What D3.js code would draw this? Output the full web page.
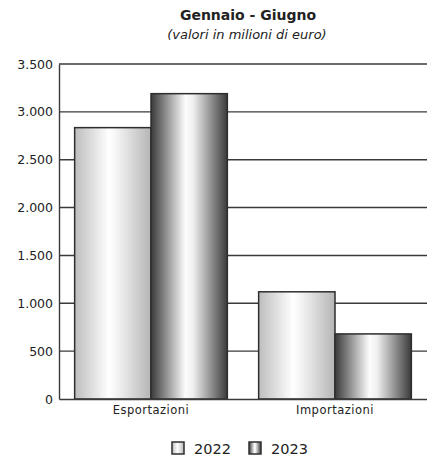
<!DOCTYPE html>
<html>
<head>
<meta charset="utf-8">
<script src="https://cdn.jsdelivr.net/npm/d3@7"></script>
<style>
  html, body { margin: 0; padding: 0; background: #fff; }
  svg { display: block; }
  text { font-family: "DejaVu Sans", Verdana, sans-serif; fill: #222; }
</style>
</head>
<body>
<svg id="chart" width="427" height="460"></svg>
<script>
const title = "Gennaio - Giugno";
const subtitle = "(valori in milioni di euro)";
const categories = ["Esportazioni", "Importazioni"];
const series = ["2022", "2023"];
const values2022 = [2835, 1120];
const values2023 = [3190, 680];
const yTicks = [0, 500, 1000, 1500, 2000, 2500, 3000, 3500];
const yTickLabels = ["0", "500", "1.000", "1.500", "2.000", "2.500", "3.000", "3.500"];

const valuesBySeries = { "2022": values2022, "2023": values2023 };
const data = categories.map((c, i) => ({ category: c, values: series.map(s => ({ series: s, value: valuesBySeries[s][i] })) }));

const svg = d3.select("#chart");
const margin = { left: 59, right: 0, top: 64, bottom: 61 };
const W = 427, H = 460;

const defs = svg.append("defs");
const gradStops = {
  "2022": [["0%", "#bdbdbd"], ["45%", "#ffffff"], ["55%", "#f4f4f4"], ["100%", "#b5b5b5"]],
  "2023": [["0%", "#3a3a3a"], ["45%", "#fcfcfc"], ["55%", "#f0f0f0"], ["100%", "#3a3a3a"]]
};
series.forEach(s => {
  const g = defs.append("linearGradient").attr("id", "grad" + s)
    .attr("x1", "0%").attr("x2", "100%").attr("y1", "0%").attr("y2", "0%");
  gradStops[s].forEach(([o, c]) => g.append("stop").attr("offset", o).attr("stop-color", c));
});

const x0 = d3.scaleBand().domain(categories).range([margin.left, W - margin.right]).paddingInner(0).paddingOuter(0);
const x1 = d3.scaleBand().domain(series).range([0, x0.bandwidth()]).paddingInner(0).paddingOuter(0.205);
const y = d3.scaleLinear().domain([0, 3500]).range([H - margin.bottom, margin.top]);

// gridlines
svg.append("g").selectAll("line").data(yTicks.filter(d => d > 0)).join("line")
  .attr("x1", margin.left).attr("x2", W - margin.right)
  .attr("y1", d => y(d)).attr("y2", d => y(d))
  .attr("stroke", "#3a3a3a").attr("stroke-width", 1.4);

// bars
const groups = svg.append("g").selectAll("g").data(data).join("g")
  .attr("transform", d => `translate(${x0(d.category)},0)`);
groups.selectAll("rect").data(d => d.values).join("rect")
  .attr("x", d => x1(d.series))
  .attr("width", x1.bandwidth())
  .attr("y", d => y(d.value))
  .attr("height", d => y(0) - y(d.value))
  .attr("fill", d => `url(#grad${d.series})`)
  .attr("stroke", "#2e2e2e").attr("stroke-width", 1.5);

// y axis
const yAxis = d3.axisLeft(y).tickValues(yTicks).tickFormat((d, i) => yTickLabels[i]).tickSize(0).tickPadding(6);
const ya = svg.append("g").attr("transform", `translate(${margin.left},0)`).call(yAxis);
ya.select(".domain").attr("stroke", "#3a3a3a").attr("stroke-width", 1.4);
ya.selectAll("text").style("font-size", "12.5px").style("fill", "#222").style("font-family", "DejaVu Sans, sans-serif");

// x axis
const xAxis = d3.axisBottom(x0).tickSize(0).tickPadding(7);
const xa = svg.append("g").attr("transform", `translate(0,${y(0)})`).call(xAxis);
xa.select(".domain").attr("stroke", "#3a3a3a").attr("stroke-width", 1.4);
xa.selectAll("text").style("font-size", "11.5px").style("letter-spacing", "0.5px").style("fill", "#222").style("font-family", "DejaVu Sans, sans-serif");

// titles
svg.append("text").attr("x", 248).attr("y", 20).attr("text-anchor", "middle")
  .style("font-size", "14px").style("font-weight", "bold").text(title);
svg.append("text").attr("x", 247).attr("y", 39).attr("text-anchor", "middle")
  .style("font-size", "13px").style("font-style", "italic").text(subtitle);

// legend
const legendX = [172, 249];
const leg = svg.append("g").selectAll("g").data(series).join("g")
  .attr("transform", (d, i) => `translate(${legendX[i]},442)`);
leg.append("rect").attr("width", 12).attr("height", 12)
  .attr("fill", d => `url(#grad${d})`).attr("stroke", "#2e2e2e").attr("stroke-width", 1.5);
leg.append("text").attr("x", 22).attr("y", 12).style("font-size", "14.5px").text(d => d);
</script>
</body>
</html>
